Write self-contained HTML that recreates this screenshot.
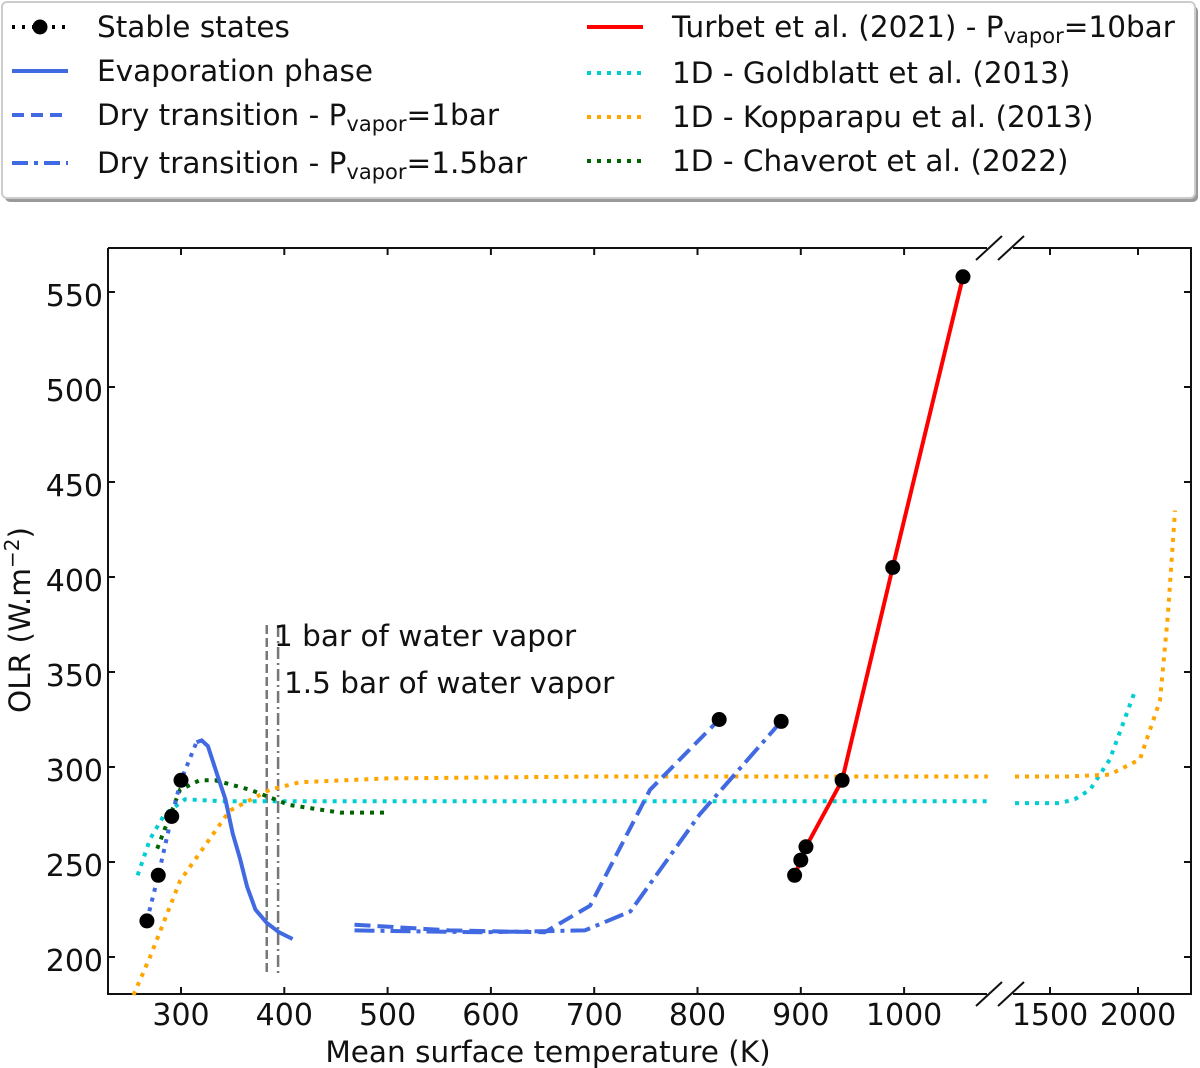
<!DOCTYPE html>
<html><head><meta charset="utf-8"><style>
html,body{margin:0;padding:0;background:#fff;}
svg{display:block;font-family:"DejaVu Sans","Liberation Sans",sans-serif;}
</style></head><body>
<svg id="chart" width="1200" height="1068" viewBox="0 0 1200 1068">
<g id="legend">
<rect x="5" y="6" width="1193" height="196" rx="5" fill="#999"/>
<rect x="2" y="2" width="1193" height="196" rx="5" fill="#fff" stroke="#ccc" stroke-width="2"/>
</g>
<g id="plot"></g>
</svg>
<script>
// ---- data ----
const stableT=[267,278,291,300];
const stableV=[219,243,274,293];
const stableLineT=[267,278,291,300,315];
const stableLineV=[219,243,274,293,313];
const evapT=[315,320,326,335,343,350,357,364,372,383,395,408];
const evapV=[313,314,311,296,283,265,252,237,225,218,213,209.5];
const dry1T=[468,560,652,696,754,821];
const dry1V=[217,214,213,227,288,325];
const dry15T=[468,590,691,735,802,881];
const dry15V=[214,213,214,224,275,324];
const turbetT=[894,900,905,940,989,1057];
const turbetV=[243,251,258,293,405,558];
const goldT=[258,270,284,304,340,500,800,1081,1301,1557,1640,1727,1840,1983];
const goldV=[243,262,275,283,282,282,282,282,281,281,283,288,304,340];
const kopT=[254,270,299,347,386,415,500,700,1081,1301,1600,1840,2011,2125,2170,2210];
const kopV=[180,200,240,277,288,292,294,295,295,295,295,296,304,335,380,435];
const chavT=[277,284,299,318,333,367,405,454,498];
const chavV=[257,267,288,293,293,288,280,276,276];
const yTicks=[200,250,300,350,400,450,500,550];
const xTicksL=[300,400,500,600,700,800,900,1000];
const xTicksR=[1500,2000];
const vline1T=383, vline15T=394;

// ---- axes ----
const L=108,R=1191,T=248,B=994,BRK_L=990,BRK_R=1010;
const FS=29.5;
function y(v){return 957-(v-200)*1.9;}
function x(t){return t<1200?181+(t-300)*1.033:1050+(t-1500)*0.176;}
const NS="http://www.w3.org/2000/svg";
const plot=document.getElementById('plot');
function el(tag,attrs,parent){const e=document.createElementNS(NS,tag);for(const k in attrs)e.setAttribute(k,attrs[k]);(parent||plot).appendChild(e);return e;}
function path(ts,vs){return ts.map((t,i)=>(i?'L':'M')+x(t).toFixed(1)+','+y(vs[i]).toFixed(1)).join('');}
function seg(ts,vs,lo,hi){const a=[],b=[];ts.forEach((t,i)=>{if(t>=lo&&t<=hi){a.push(t);b.push(vs[i]);}});return path(a,b);}

let f;
f=el('path',{d:`M${L},${T}V${B}H${BRK_L-3}M${BRK_R+3},${B}H${R}V${T}H${BRK_R+3}M${BRK_L-3},${T}H${L}`,fill:'none',stroke:'#111','stroke-width':2});


[[BRK_L-14,BRK_L+12],[BRK_R-12,BRK_R+14]].forEach(([a,b])=>{[T,B].forEach(yy=>{const m=el('line',{x1:a,y1:yy+12,x2:b,y2:yy-12,stroke:'#111','stroke-width':2});

});});

yTicks.forEach(v=>{
 el('line',{x1:L,y1:y(v),x2:L+7,y2:y(v),stroke:'#111','stroke-width':2});
 el('line',{x1:R,y1:y(v),x2:R-7,y2:y(v),stroke:'#111','stroke-width':2});
 const t=el('text',{x:L-5,y:y(v)+14,'text-anchor':'end','font-size':30,fill:'#111'});t.textContent=v;
 
 
});
xTicksL.concat(xTicksR).forEach(v=>{
 el('line',{x1:x(v),y1:B,x2:x(v),y2:B-7,stroke:'#111','stroke-width':2});
 el('line',{x1:x(v),y1:T,x2:x(v),y2:T+7,stroke:'#111','stroke-width':2});
 const t=el('text',{x:x(v),y:B+31,'text-anchor':'middle','font-size':30,fill:'#111'});t.textContent=v;
 
 
});
let xt=el('text',{x:548,y:1062,'text-anchor':'middle','font-size':FS,fill:'#111'});xt.textContent='Mean surface temperature (K)';


let yt=el('text',{x:0,y:0,'text-anchor':'middle','font-size':FS,fill:'#111',transform:'translate(30,620) rotate(-90)'});
yt.innerHTML='OLR (W.m<tspan dy="-11" font-size="20">−2</tspan><tspan dy="11">)</tspan>';



let v1=el('line',{x1:x(vline1T),y1:625,x2:x(vline1T),y2:975,stroke:'#777','stroke-width':2.5,'stroke-dasharray':'9,4'});


let v2=el('line',{x1:x(vline15T),y1:625,x2:x(vline15T),y2:975,stroke:'#777','stroke-width':2.5,'stroke-dasharray':'12,4,2,4'});


let a1=el('text',{x:274,y:646,'font-size':FS,fill:'#111'});a1.textContent='1 bar of water vapor';


let a2=el('text',{x:284,y:693,'font-size':FS,fill:'#111'});a2.textContent='1.5 bar of water vapor';



function line(d,color,dash,name,w){const p=el('path',{d:d,fill:'none',stroke:color,'stroke-width':w||4,'stroke-dasharray':dash||'none'});

return p;}
const dot='4,6';
line(seg(goldT,goldV,0,1200),'#00ced1',dot,'goldblatt-line-left');
line(seg(goldT,goldV,1200,3000),'#00ced1',dot,'goldblatt-line-right');
line(seg(kopT,kopV,0,1200),'#ffa500',dot,'kopparapu-line-left');
line(seg(kopT,kopV,1200,3000),'#ffa500',dot,'kopparapu-line-right');
line(path(chavT,chavV),'#006400',dot,'chaverot-line');
line(path(stableLineT,stableLineV),'#4169e1',dot,'stable-states-line');
line(path(evapT,evapV),'#4169e1','','evaporation-line');
line(path(dry1T,dry1V),'#4169e1','16,7','dry-transition-1bar-line');
line(path(dry15T,dry15V),'#4169e1','20,6,4,6','dry-transition-1.5bar-line');
line(path(turbetT,turbetV),'#ff0000','','turbet-line');
function dots(ts,vs,name){ts.forEach((t,i)=>{const c=el('circle',{cx:x(t),cy:y(vs[i]),r:7.5,fill:'#000'});

});}
dots(stableT,stableV,'stable-state-point');
dots(turbetT,turbetV,'turbet-stable-point');
dots([821,881],[325,324],'dry-stable-point');

const lg=document.getElementById('legend');
function lentry(x0,yy,color,dash,label,name,marker){
 const g=el('g',{},lg);
 
 
 el('line',{x1:x0,y1:yy,x2:x0+56,y2:yy,stroke:color,'stroke-width':4,'stroke-dasharray':dash||'none'},g);
 if(marker)el('circle',{cx:x0+28,cy:yy,r:7.5,fill:'#000'},g);
 const t=el('text',{x:x0+85,y:yy+10,'font-size':FS,fill:'#111'},g);t.innerHTML=label;
}
const sub=(s)=>`P<tspan font-size="21" dy="6">vapor</tspan><tspan dy="-6">${s}</tspan>`;
lentry(12,27,'#000','3,7','Stable states','legend-stable-states',true);
lentry(12,71,'#4169e1','','Evaporation phase','legend-evaporation');
lentry(12,115,'#4169e1','12,7','Dry transition - '+sub('=1bar'),'legend-dry-1bar');
lentry(12,163,'#4169e1','16,6,4,6','Dry transition - '+sub('=1.5bar'),'legend-dry-1.5bar');
lentry(587,27,'#ff0000','','Turbet et al. (2021) - '+sub('=10bar'),'legend-turbet');
lentry(587,73,'#00ced1','4,6','1D - Goldblatt et al. (2013)','legend-goldblatt');
lentry(587,117,'#ffa500','4,6','1D - Kopparapu et al. (2013)','legend-kopparapu');
lentry(587,161,'#006400','4,6','1D - Chaverot et al. (2022)','legend-chaverot');
</script>
</body></html>
